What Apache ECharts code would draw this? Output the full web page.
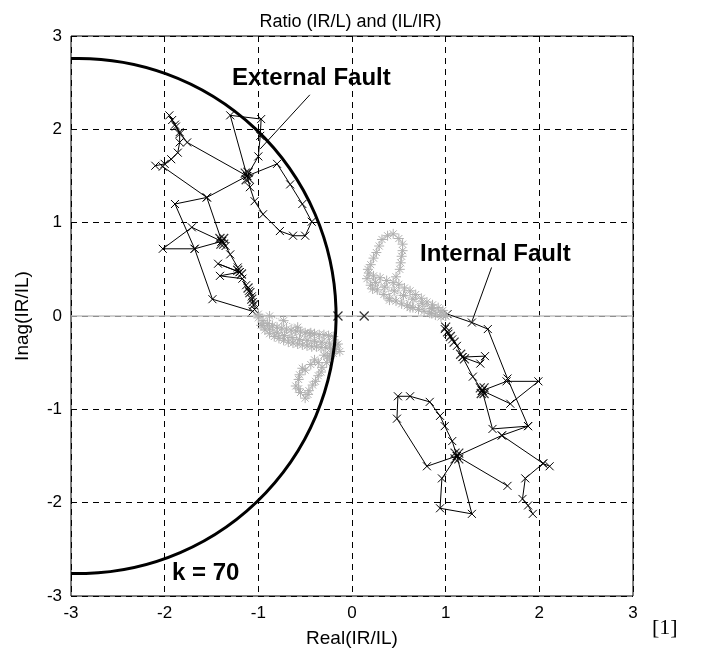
<!DOCTYPE html>
<html><head>
<meta charset="utf-8">
<title>Ratio (IR/L) and (IL/IR)</title>
<script src="https://cdn.jsdelivr.net/npm/echarts@6/dist/echarts.min.js"></script>
<style>
html,body{margin:0;padding:0;background:#fff;}
#main{width:701px;height:664px;}
</style>
</head>
<body>
<div id="main"></div>
<script type="text/javascript">
// axis range (both axes)
var axisMin = -3, axisMax = 3, axisStep = 1;

// k = 70 boundary circle: centre x, centre y, radius
var kCircle = [[-2.92, 0, 2.75]];

// external fault, black trajectories
var extTopLoop = [[-1.12,1.50],[-1.00,1.71],[-0.98,1.93],[-0.97,2.11],[-1.30,2.15],[-1.12,1.50]];
var extRightLoop = [[-1.12,1.50],[-0.80,1.63],[-0.66,1.41],[-0.53,1.20],[-0.43,1.01],[-0.50,0.86],[-0.63,0.86],[-0.77,0.91],[-0.95,1.09],[-1.04,1.23],[-1.09,1.38],[-1.12,1.50]];
var extTopLeft = [[-1.12,1.50],[-1.76,1.86],[-1.84,1.97],[-1.89,2.05],[-1.95,2.15],[-1.92,2.10],[-1.88,2.03],[-1.84,1.95],[-1.84,1.86],[-1.86,1.75],[-1.93,1.68],[-2.00,1.63],[-2.10,1.61]];
var extMidLeft = [[-2.02,1.60],[-1.55,1.27],[-1.39,0.80]];
var extCross = [[-1.12,1.50],[-1.55,1.27],[-1.89,1.20],[-1.68,0.72],[-1.39,0.80]];
var extLowLoop = [[-1.39,0.80],[-1.71,0.95],[-2.02,0.72],[-1.68,0.72],[-1.49,0.18],[-1.06,0.05]];
var extSpine = [[-1.39,0.80],[-1.35,0.75],[-1.30,0.66],[-1.22,0.52],[-1.20,0.47],[-1.43,0.56],[-1.20,0.47],[-1.41,0.43],[-1.17,0.40],[-1.13,0.33],[-1.10,0.27],[-1.07,0.21],[-1.06,0.15],[-1.04,0.07]];
var extBursts = [[-1.14,1.53],[-1.10,1.47],[-1.13,1.46],[-1.11,1.54],[-1.41,0.83],[-1.37,0.77],[-1.40,0.77],[-1.37,0.83],[-1.22,0.49],[-1.18,0.45],[-1.11,0.30],[-1.09,0.25],[-1.07,0.18],[-1.05,0.12]];

// external fault, grey trajectory
var extGrey = [[-1.00,-0.02],[-0.97,-0.10],[-0.95,-0.05],[-0.93,-0.15],[-0.90,-0.08],[-0.88,-0.19],[-0.85,-0.10],[-0.83,-0.22],[-0.80,-0.12],[-0.78,-0.24],[-0.75,-0.13],[-0.73,-0.26],[-0.70,-0.14],[-0.68,-0.28],[-0.65,-0.15],[-0.63,-0.29],[-0.60,-0.16],[-0.58,-0.30],[-0.55,-0.17],[-0.53,-0.31],[-0.50,-0.18],[-0.48,-0.32],[-0.45,-0.19],[-0.43,-0.33],[-0.40,-0.19],[-0.38,-0.33],[-0.35,-0.20],[-0.33,-0.34],[-0.30,-0.20],[-0.28,-0.34],[-0.25,-0.21],[-0.23,-0.35],[-0.20,-0.22],[-0.18,-0.36],[-0.15,-0.30],[-0.13,-0.38],[-0.20,-0.40],[-0.26,-0.43],[-0.30,-0.42],[-0.36,-0.50],[-0.40,-0.47],[-0.44,-0.52],[-0.50,-0.58],[-0.53,-0.56],[-0.56,-0.63],[-0.57,-0.68],[-0.60,-0.75],[-0.57,-0.78],[-0.55,-0.82],[-0.50,-0.88],[-0.47,-0.84],[-0.46,-0.80],[-0.42,-0.74],[-0.39,-0.70],[-0.36,-0.64],[-0.33,-0.60],[-0.32,-0.55],[-0.27,-0.50],[-0.24,-0.45],[-0.22,-0.40]];
var extGreyMid = [[-0.95,-0.10],[-0.88,-0.14],[-0.80,-0.18],[-0.72,-0.21],[-0.64,-0.23],[-0.56,-0.25],[-0.48,-0.26],[-0.40,-0.27],[-0.32,-0.28],[-0.24,-0.29],[-0.17,-0.31]];
var extGreyUpper = [[-1.00,0.02],[-0.88,0.00],[-0.73,-0.05],[-0.58,-0.12],[-0.44,-0.18]];

// pre-fault points on the real axis
var startPts = [[-0.15,0],[0.13,0]];

// internal fault, black trajectories
var intOuter = [[1.02,0.02],[1.28,-0.07],[1.45,-0.14],[1.66,-0.67],[1.88,-1.18],[1.50,-1.21],[1.39,-0.80]];
var intSpine = [[0.99,-0.14],[1.03,-0.19],[1.07,-0.25],[1.12,-0.32],[1.18,-0.44],[1.42,-0.43],[1.37,-0.51],[1.18,-0.44],[1.29,-0.65],[1.39,-0.80]];
var intRightLoop = [[1.39,-0.80],[1.65,-0.70],[1.99,-0.70],[1.69,-0.94],[1.39,-0.80]];
var intLeftLoop = [[1.12,-1.50],[0.80,-1.61],[0.48,-1.10],[0.49,-0.86],[0.62,-0.86],[0.83,-0.92],[0.94,-1.07],[0.99,-1.18],[1.07,-1.34],[1.12,-1.50]];
var intRightArm = [[1.12,-1.50],[1.60,-1.28],[1.88,-1.18]];
var intRightTail = [[1.60,-1.28],[2.04,-1.58],[2.11,-1.61]];
var intDownArm = [[1.12,-1.50],[1.66,-1.82]];
var intChain = [[2.04,-1.58],[1.85,-1.74],[1.82,-1.96],[1.88,-2.03],[1.93,-2.12]];
var intBottomLoop = [[1.12,-1.50],[0.96,-1.74],[0.94,-2.06],[1.28,-2.12],[1.12,-1.50]];
var intBursts = [[1.00,-0.12],[1.02,-0.17],[1.05,-0.22],[1.09,-0.28],[1.16,-0.41],[1.20,-0.46],[1.37,-0.77],[1.41,-0.83],[1.38,-0.83],[1.41,-0.77],[1.10,-1.47],[1.14,-1.53],[1.10,-1.53],[1.14,-1.47]];

// internal fault, grey trajectory
var intGrey = [[1.00,0.00],[0.97,0.06],[0.95,-0.01],[0.92,0.09],[0.89,0.01],[0.86,0.12],[0.83,0.03],[0.80,0.15],[0.77,0.05],[0.74,0.19],[0.71,0.07],[0.68,0.23],[0.65,0.09],[0.62,0.27],[0.59,0.11],[0.56,0.30],[0.53,0.13],[0.50,0.34],[0.47,0.16],[0.44,0.36],[0.40,0.19],[0.37,0.38],[0.34,0.23],[0.30,0.41],[0.27,0.28],[0.23,0.43],[0.20,0.33],[0.18,0.46],[0.16,0.40],[0.17,0.50],[0.20,0.55],[0.23,0.62],[0.26,0.68],[0.29,0.75],[0.32,0.82],[0.38,0.86],[0.44,0.88],[0.50,0.83],[0.54,0.77],[0.54,0.70],[0.53,0.64],[0.52,0.57],[0.51,0.50],[0.47,0.42]];
var intGreyMid = [[0.95,0.04],[0.85,0.08],[0.75,0.13],[0.65,0.18],[0.55,0.22],[0.45,0.27],[0.35,0.31],[0.25,0.36]];
var intGreyLow = [[0.22,0.29],[0.40,0.17],[0.62,0.09],[0.85,0.03],[1.00,0.00]];

// annotation pointers
var extPointer = [[-0.45,2.37],[-0.98,1.79]];
var intPointer = [[1.49,0.52],[1.28,-0.06]];

var crossSym = 'path://M0,0L10,10M10,0L0,10';
var starSym = 'path://M5,0L5,10M0,5L10,5M1.5,1.5L8.5,8.5M8.5,1.5L1.5,8.5';
var font = "'Liberation Sans', Arial, Helvetica, sans-serif";

function blackPath(d) {
    return {
        type: 'line', data: d, symbol: crossSym, symbolSize: 8, z: 3,
        lineStyle: {color: '#000', width: 1},
        itemStyle: {color: '#000', borderColor: '#000', borderWidth: 1}
    };
}
function greyPath(d) {
    return {
        type: 'line', data: d, symbol: starSym, symbolSize: 10, z: 4,
        lineStyle: {color: '#b0b0b0', width: 1, type: 'dotted'},
        itemStyle: {color: '#b0b0b0', borderColor: '#b0b0b0', borderWidth: 1}
    };
}
function pointer(d) {
    return {
        type: 'line', data: d, symbol: 'none', z: 6,
        lineStyle: {color: '#000', width: 1}
    };
}

var series = [
    {
        type: 'line', data: [[axisMin,0],[axisMax,0]], symbol: 'none', z: 2,
        lineStyle: {color: '#c0c0c0', width: 1.5}
    }
];
[extTopLoop, extRightLoop, extTopLeft, extMidLeft, extCross, extLowLoop, extSpine,
 intOuter, intSpine, intRightLoop, intLeftLoop, intRightArm, intRightTail, intDownArm, intChain, intBottomLoop
].forEach(function (d) { series.push(blackPath(d)); });
series.push({
    type: 'scatter', data: extBursts.concat(intBursts).concat(startPts), symbol: crossSym, symbolSize: 9, z: 3,
    itemStyle: {color: '#000', borderColor: '#000', borderWidth: 1.2}
});
[extGrey, extGreyMid, extGreyUpper, intGrey, intGreyMid, intGreyLow].forEach(function (d) { series.push(greyPath(d)); });
series.push(pointer(extPointer));
series.push(pointer(intPointer));
series.push({
    type: 'custom', data: kCircle, z: 8,
    renderItem: function (params, api) {
        var c = api.coord([api.value(0), api.value(1)]);
        var r = api.size([api.value(2), 0])[0];
        var a0 = Math.acos((axisMin - api.value(0)) / api.value(2));
        return {
            type: 'arc',
            shape: {cx: c[0], cy: c[1], r: r, startAngle: -a0, endAngle: a0, clockwise: true},
            style: {fill: 'none', stroke: '#000', lineWidth: 3}
        };
    }
});

var myChart = echarts.init(document.getElementById('main'));
var option = {
    animation: false,
    backgroundColor: '#fff',
    title: {
        text: 'Ratio (IR/L) and (IL/IR)',
        left: 'center', top: 8,
        textStyle: {fontFamily: font, fontSize: 18, fontWeight: 'normal', color: '#000'}
    },
    grid: {left: 71, right: 68, top: 36, bottom: 68, show: true, borderColor: '#000', borderWidth: 1, backgroundColor: '#fff'},
    xAxis: {
        type: 'value', min: axisMin, max: axisMax, interval: axisStep,
        name: 'Real(IR/IL)', nameLocation: 'middle', nameGap: 33,
        nameTextStyle: {fontFamily: font, fontSize: 19, color: '#000'},
        axisLine: {show: false}, axisTick: {show: false},
        axisLabel: {fontFamily: font, fontSize: 17, color: '#000', margin: 9},
        splitLine: {show: true, lineStyle: {color: '#000', type: [6, 5], width: 1}}
    },
    yAxis: {
        type: 'value', min: axisMin, max: axisMax, interval: axisStep,
        name: 'Inag(IR/IL)', nameLocation: 'middle', nameGap: 39,
        nameTextStyle: {fontFamily: font, fontSize: 19, color: '#000'},
        axisLine: {show: false}, axisTick: {show: false},
        axisLabel: {fontFamily: font, fontSize: 17, color: '#000', margin: 9},
        splitLine: {show: true, lineStyle: {color: '#000', type: [6, 5], width: 1}}
    },
    graphic: [
        {type: 'text', left: 232, top: 66, z: 20, style: {text: 'External Fault', font: "bold 24px 'Liberation Sans', Arial, sans-serif", fill: '#000'}},
        {type: 'text', left: 420, top: 242, z: 20, style: {text: 'Internal Fault', font: "bold 24px 'Liberation Sans', Arial, sans-serif", fill: '#000'}},
        {type: 'text', left: 172, top: 561, z: 20, style: {text: 'k = 70', font: "bold 24px 'Liberation Sans', Arial, sans-serif", fill: '#000'}},
        {type: 'text', left: 652, top: 617, z: 20, style: {text: '[1]', font: "22px 'Liberation Serif', 'Times New Roman', serif", fill: '#000'}}
    ],
    series: series
};
myChart.setOption(option);
</script>
</body>
</html>
